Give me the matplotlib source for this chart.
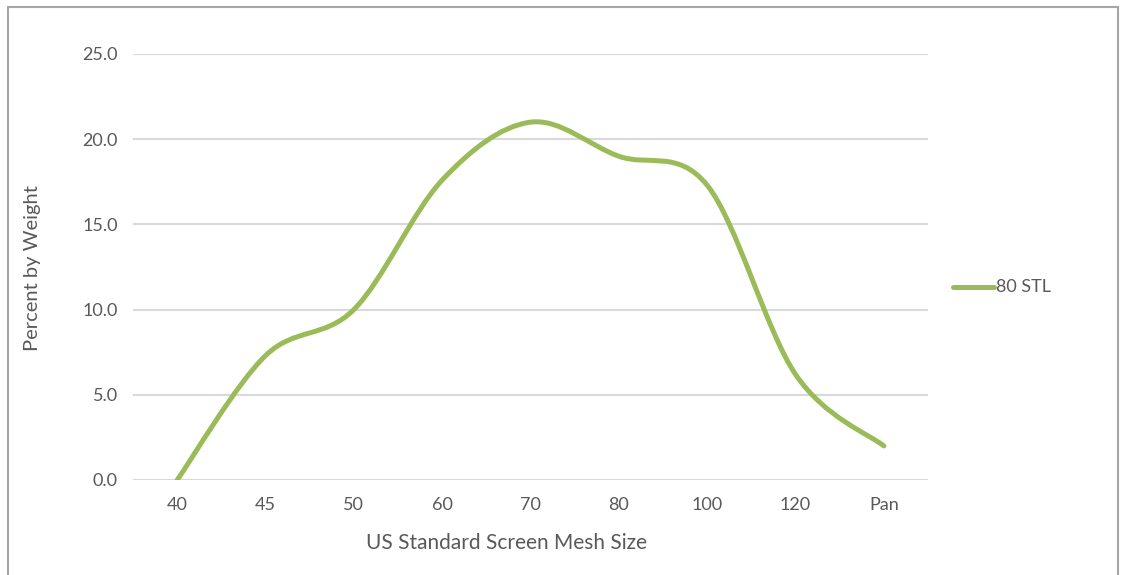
import numpy as np
import matplotlib
matplotlib.use("Agg")
import matplotlib.pyplot as plt
from matplotlib.path import Path
from matplotlib.patches import PathPatch, Rectangle
from matplotlib.lines import Line2D

mesh_sizes = ["40", "45", "50", "60", "70", "80", "100", "120", "Pan"]
stl_80 = [0.0, 7.3, 10.0, 17.6, 21.0, 19.0, 17.3, 6.2, 2.0]

plt.rcParams['font.family'] = ['Lato', 'DejaVu Sans']
text_color = '#595959'
line_color = '#9BBB59'


def smooth_path(xs, ys):
    # Excel style smoothed line: cubic Bezier segments with Catmull-Rom tangents
    pts = np.column_stack([xs, ys]).astype(float)
    n = len(pts)
    verts = [pts[0]]
    codes = [Path.MOVETO]
    for i in range(n - 1):
        p0 = pts[i - 1] if i > 0 else pts[i]
        p1 = pts[i]
        p2 = pts[i + 1]
        p3 = pts[i + 2] if i + 2 < n else pts[i + 1]
        c1 = p1 + (p2 - p0) / 6.0
        c2 = p2 - (p3 - p1) / 6.0
        verts += [c1, c2, p2]
        codes += [Path.CURVE4, Path.CURVE4, Path.CURVE4]
    return Path(verts, codes)


fig = plt.figure(figsize=(11.23, 5.75), dpi=100)
ax = fig.add_axes([133 / 1123, 1 - 480 / 575, (928 - 133) / 1123, (480 - 54) / 575])

x = np.arange(len(mesh_sizes))
patch = PathPatch(smooth_path(x, stl_80), facecolor='none', edgecolor=line_color,
                  lw=3.6, capstyle='round', joinstyle='round', zorder=3)
ax.add_patch(patch)

ax.set_xlim(-0.5, len(mesh_sizes) - 0.5)
ax.set_ylim(0, 25)
ax.set_xticks(x)
ax.set_xticklabels(mesh_sizes)
ax.set_yticks(np.arange(0, 26, 5))
ax.set_yticklabels([f"{v:.1f}" for v in np.arange(0, 26, 5)])
ax.tick_params(length=0, labelsize=13, labelcolor=text_color, pad=12)
ax.tick_params(axis='y', pad=11)
ax.yaxis.grid(True, color='#D9D9D9', lw=1.5)
ax.set_axisbelow(True)
for s in ax.spines.values():
    s.set_visible(False)

ax.set_xlabel("US Standard Screen Mesh Size", fontsize=15, color=text_color)
ax.xaxis.set_label_coords((506 - 133) / 795, -(543 - 480) / 426)
ax.xaxis.label.set_va('center')
fig.text(33 / 1123, 1 - 268 / 575, "Percent by Weight", rotation=90, fontsize=14.5,
         color=text_color, ha='center', va='center')

# legend entry
fig.add_artist(Line2D([953 / 1123, 994 / 1123], [1 - 287 / 575] * 2, color=line_color,
                      lw=3.6, solid_capstyle='round'))
fig.text(996 / 1123, 1 - 287 / 575, "80 STL", fontsize=13, color=text_color,
         ha='left', va='center')

# outer chart border
fig.add_artist(Rectangle((7.5 / 1123, -0.05), (1118 - 7.5) / 1123, 1.05 - 6.5 / 575,
                         transform=fig.transFigure, fill=False, edgecolor='#A6A6A6', lw=1.5))

fig.savefig("out.png", dpi=100)
